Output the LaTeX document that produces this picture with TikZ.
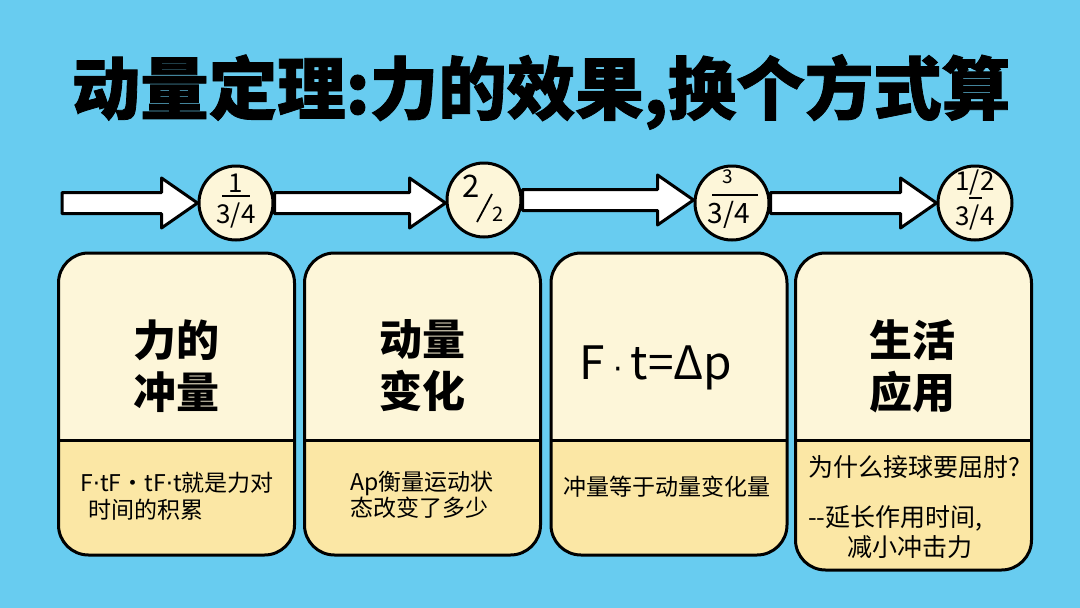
\documentclass[tikz,border=0pt]{standalone}
\usepackage{fontspec}
\setmainfont{Noto Sans CJK SC}
\newfontfamily\titlefont{Noto Sans CJK SC}[BoldFeatures={FakeBold=1.2}]
\newfontfamily\dotfont{DejaVu Sans}
\usetikzlibrary{calc}
\definecolor{bg}{RGB}{104,204,240}
\definecolor{cream}{RGB}{253,246,217}
\definecolor{ylw}{RGB}{251,231,165}
\newcommand\nd{{\dotfont ·}}
\tikzset{
  card/.style 2 args={draw=black, line width=3pt, rounded corners=30pt, fill=cream,
    minimum width=236pt, minimum height=#1, inner sep=0pt,
    path picture={
      \fill[ylw, sharp corners] (path picture bounding box.south west) rectangle ([yshift=#2]path picture bounding box.south east);
      \draw[line width=3pt, sharp corners] ([yshift=#2]path picture bounding box.south west) -- ([yshift=#2]path picture bounding box.south east);
    }},
  circ/.style={circle, draw=black, line width=3pt, fill=cream, minimum size=74pt, inner sep=0pt},
  barrow/.style={draw=black, fill=white, line width=3pt, line join=round},
  head/.style={font=\fontsize{43}{52}\selectfont\bfseries, align=center, inner sep=0pt},
  body/.style={font=\fontsize{22}{27}\selectfont, inner sep=0pt},
  frac/.style={font=\fontsize{26}{26}\selectfont, inner sep=0pt},
  bar/.style={line width=1.4pt},
}
\newcommand\blockarrow[2]{%
  \draw[barrow] let \p1=(#1), \p2=(#2) in
    (\x1,\y1+10.5pt) -- (\x2-36pt,\y1+10.5pt) -- (\x2-36pt,\y1+25pt) -- (\x2,\y1)
    -- (\x2-36pt,\y1-25pt) -- (\x2-36pt,\y1-10.5pt) -- (\x1,\y1-10.5pt) -- cycle;}
\begin{document}
\begin{tikzpicture}[x=1pt,y=-1pt]
\useasboundingbox (0,0) rectangle (1080,608);
\fill[bg] (0,0) rectangle (1080,608);

% title
\node[font=\titlefont\fontsize{68.5}{76}\selectfont\bfseries, inner sep=0pt] (title) at (541,92) {动量定理:力的效果,换个方式算};

% circles
\node[circ] (o1) at (236,203) {};
\node[circ] (o2) at (484,200) {};
\node[circ] (o3) at (732,203) {};
\node[circ] (o4) at (975,203) {};
\coordinate (start) at (62,203);

% arrows
\blockarrow{start}{o1.west}
\blockarrow{o1.east}{o2.west}
\blockarrow{o2.east}{o3.west}
\blockarrow{o3.east}{o4.west}

% circle contents
\node[frac] (f1a) at (236,183) {1};
\draw[bar] (222,196) -- (250,196);
\node[frac] (f1b) at (236,216) {3/4};

\node[font=\fontsize{31}{31}\selectfont, inner sep=0pt] (f2a) at (471,186) {2};
\draw[line width=1.8pt] (477,222) -- (492,194);
\node[font=\fontsize{20}{20}\selectfont, inner sep=0pt] (f2b) at (498,214) {2};

\node[font=\fontsize{19}{19}\selectfont, inner sep=0pt] (f3a) at (728,177) {3};
\draw[bar] (712,195) -- (758,195);
\node[font=\fontsize{28}{28}\selectfont, inner sep=0pt] (f3b) at (729,215) {3/4};

\node[frac] (f4a) at (975,183) {1/2};
\draw[bar] (969,198) -- (982,198);
\node[frac] (f4b) at (975,218) {3/4};

% cards
\node[card={302pt}{115pt}] (k1) at (176.5,404) {};
\node[card={302pt}{115pt}] (k2) at (422.5,404) {};
\node[card={302pt}{115pt}] (k3) at (669,404) {};
\node[card={317pt}{130pt}] (k4) at (913.5,411.5) {};

% card headings
\node[head] (h1) at (176,366) {力的\\冲量};
\node[head] (h2) at (422,366) {动量\\变化};
\node[font=\fontsize{46}{46}\selectfont, inner sep=0pt] (h3) at (656,368) {F\hspace{8pt}{\dotfont\fontsize{30}{30}\selectfont ·}\hspace{8pt}t=Δp};
\node[head] (h4) at (912,366) {生活\\应用};

% card bodies
\node[body, font=\fontsize{23}{27}\selectfont, anchor=west] (b1a) at (80,483) {F\nd tF・tF\nd t就是力对};
\node[body, font=\fontsize{23}{27}\selectfont, anchor=west] (b1b) at (88,510) {时间的积累};
\node[body, font=\fontsize{23}{27}\selectfont, anchor=west] (b2a) at (350,483) {Ap衡量运动状};
\node[body, font=\fontsize{23}{27}\selectfont, anchor=west] (b2b) at (350,508) {态改变了多少};
\node[body, font=\fontsize{23}{27}\selectfont] (b3) at (667,487) {冲量等于动量变化量};
\node[body, font=\fontsize{25}{27}\selectfont, anchor=west] (b4a) at (808,467) {为什么接球要屈肘?};
\node[body, font=\fontsize{25}{27}\selectfont, anchor=west] (b4b) at (808,518) {{-}{-}延长作用时间,};
\node[body, font=\fontsize{25}{27}\selectfont] (b4c) at (910,547) {减小冲击力};
\end{tikzpicture}
\end{document}
